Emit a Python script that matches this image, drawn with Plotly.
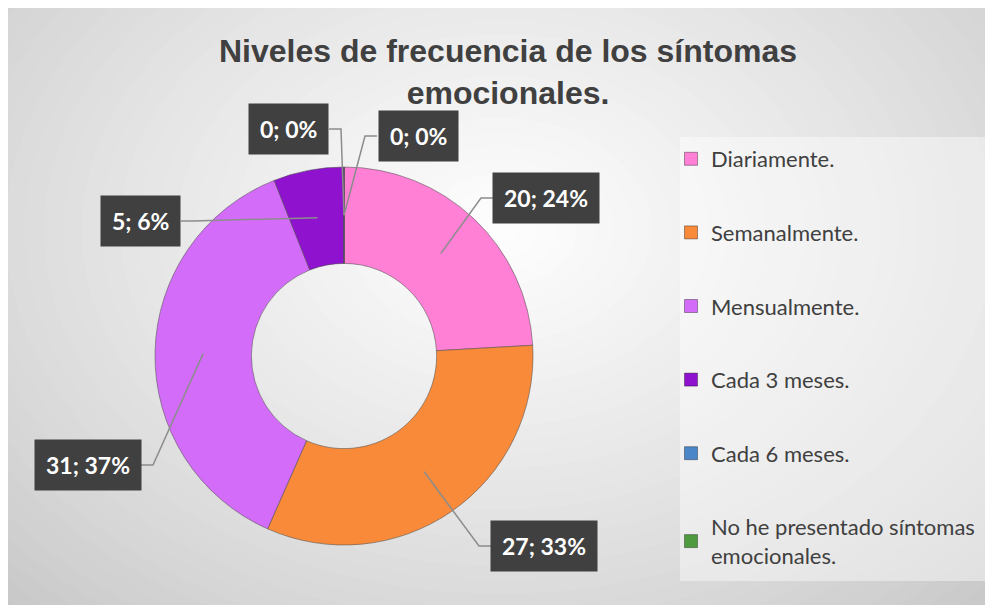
import math

import plotly.graph_objects as go

# data
labels = ['Diariamente.', 'Semanalmente.', 'Mensualmente.', 'Cada 3 meses.', 'Cada 6 meses.',
          'No he presentado síntomas<br>emocionales.']
counts = [20, 27, 31, 5, 0, 0]
colors = ['#FF80D5', '#F98A3A', '#D46CFA', '#8E12CE', '#4A86C8', '#4E9A3E']
title_text = 'Niveles de frecuencia de los síntomas<br>emocionales.'

W, H = 993, 605
OFF = 8  # the page body margin shifts the figure by 8px
# donut geometry in screen pixels (top-left origin)
CX, CY, R_OUT, HOLE = 344, 356, 189, 0.49
# label box centres (screen pixels), one per slice
label_pos = [(546, 198), (544, 546), (88, 465), (140, 221), (288, 129), (418, 136)]

fig = go.Figure()

# background: chart frame with a soft radial gradient
shapes = [dict(type='rect', xref='x', yref='y', x0=8, x1=W + OFF, y0=10, y1=H + OFF,
               fillcolor='#C2C2C2', line=dict(color='#BDBDBD', width=1), layer='below')]
steps = 40
for i in range(steps):
    t = 1 - i / steps
    rx, ry = 760 * t, 560 * t
    g = int(194 + (255 - 194) * (1 - t) ** 0.8)
    shapes.append(dict(type='circle', xref='x', yref='y', x0=500 - rx, x1=500 + rx,
                       y0=230 - ry, y1=230 + ry, fillcolor=f'rgb({g},{g},{g})',
                       line=dict(width=0), layer='below'))
# legend panel
shapes.append(dict(type='rect', xref='x', yref='y', x0=680, x1=989, y0=137, y1=581,
                   fillcolor='rgba(255,255,255,0.42)', line=dict(width=0), layer='below'))

fig.add_trace(go.Pie(
    labels=labels, values=counts, sort=False, direction='clockwise', rotation=0,
    hole=HOLE, textinfo='none', hoverinfo='label+value+percent', showlegend=False,
    marker=dict(colors=colors, line=dict(color='rgba(80,80,80,0.55)', width=1)),
    domain=dict(x=[(CX - OFF - R_OUT) / W, (CX - OFF + R_OUT) / W],
                y=[(H - (CY - OFF) - R_OUT) / H, (H - (CY - OFF) + R_OUT) / H]),
))

# legend entries
for lab, col in zip(labels, colors):
    fig.add_trace(go.Scatter(x=[None], y=[None], mode='markers', name=lab, legendgroup=lab,
                             marker=dict(symbol='square', size=13, color=col,
                                         line=dict(color='rgba(0,0,0,0.35)', width=1))))

# data labels with elbow leader lines
total = sum(counts)
r_mid = R_OUT * (1 + HOLE) / 2
annotations = []
cum = 0
for v, (bx, by) in zip(counts, label_pos):
    mid = (cum + v / 2) / total * 2 * math.pi
    cum += v
    ax = CX + r_mid * math.sin(mid)
    ay = CY - r_mid * math.cos(mid)
    pct = round(100 * v / total)
    text = f'{v}; {pct}%'
    hw = len(text) * 6 + 11
    if bx > ax:
        edge, elbow = bx - hw, bx - hw - 12
    else:
        edge, elbow = bx + hw, bx + hw + 12
    shapes.append(dict(type='path', xref='x', yref='y', layer='above',
                       path=f'M {ax},{ay} L {elbow},{by} L {edge},{by}',
                       line=dict(color='#8C8C8C', width=1.5)))
    annotations.append(dict(x=bx, y=by, xref='x', yref='y', text=f'<b>{text}</b>',
                            showarrow=False, bgcolor='#404040', borderpad=11,
                            font=dict(family='Lato', size=23, color='white')))

fig.update_layout(
    width=W, height=H,
    margin=dict(l=0, r=0, t=0, b=0),
    paper_bgcolor='white', plot_bgcolor='rgba(0,0,0,0)',
    xaxis=dict(domain=[0, 1], range=[OFF, W + OFF], visible=False, fixedrange=True),
    yaxis=dict(domain=[0, 1], range=[H + OFF, OFF], visible=False, fixedrange=True),
    shapes=shapes,
    annotations=annotations,
    title=dict(text=title_text, x=500 / W, xanchor='center', y=1 - 54 / H, yanchor='top',
               font=dict(family='Liberation Sans', size=32, color='#404040', weight='bold')),
    legend=dict(x=(671 - OFF) / W, xanchor='left', y=1 - (138 - OFF) / H, yanchor='top',
                bgcolor='rgba(0,0,0,0)', tracegroupgap=42, itemwidth=30,
                font=dict(family='Lato', size=22, color='#404040')),
    showlegend=True,
)

fig.write_html('out.html')
